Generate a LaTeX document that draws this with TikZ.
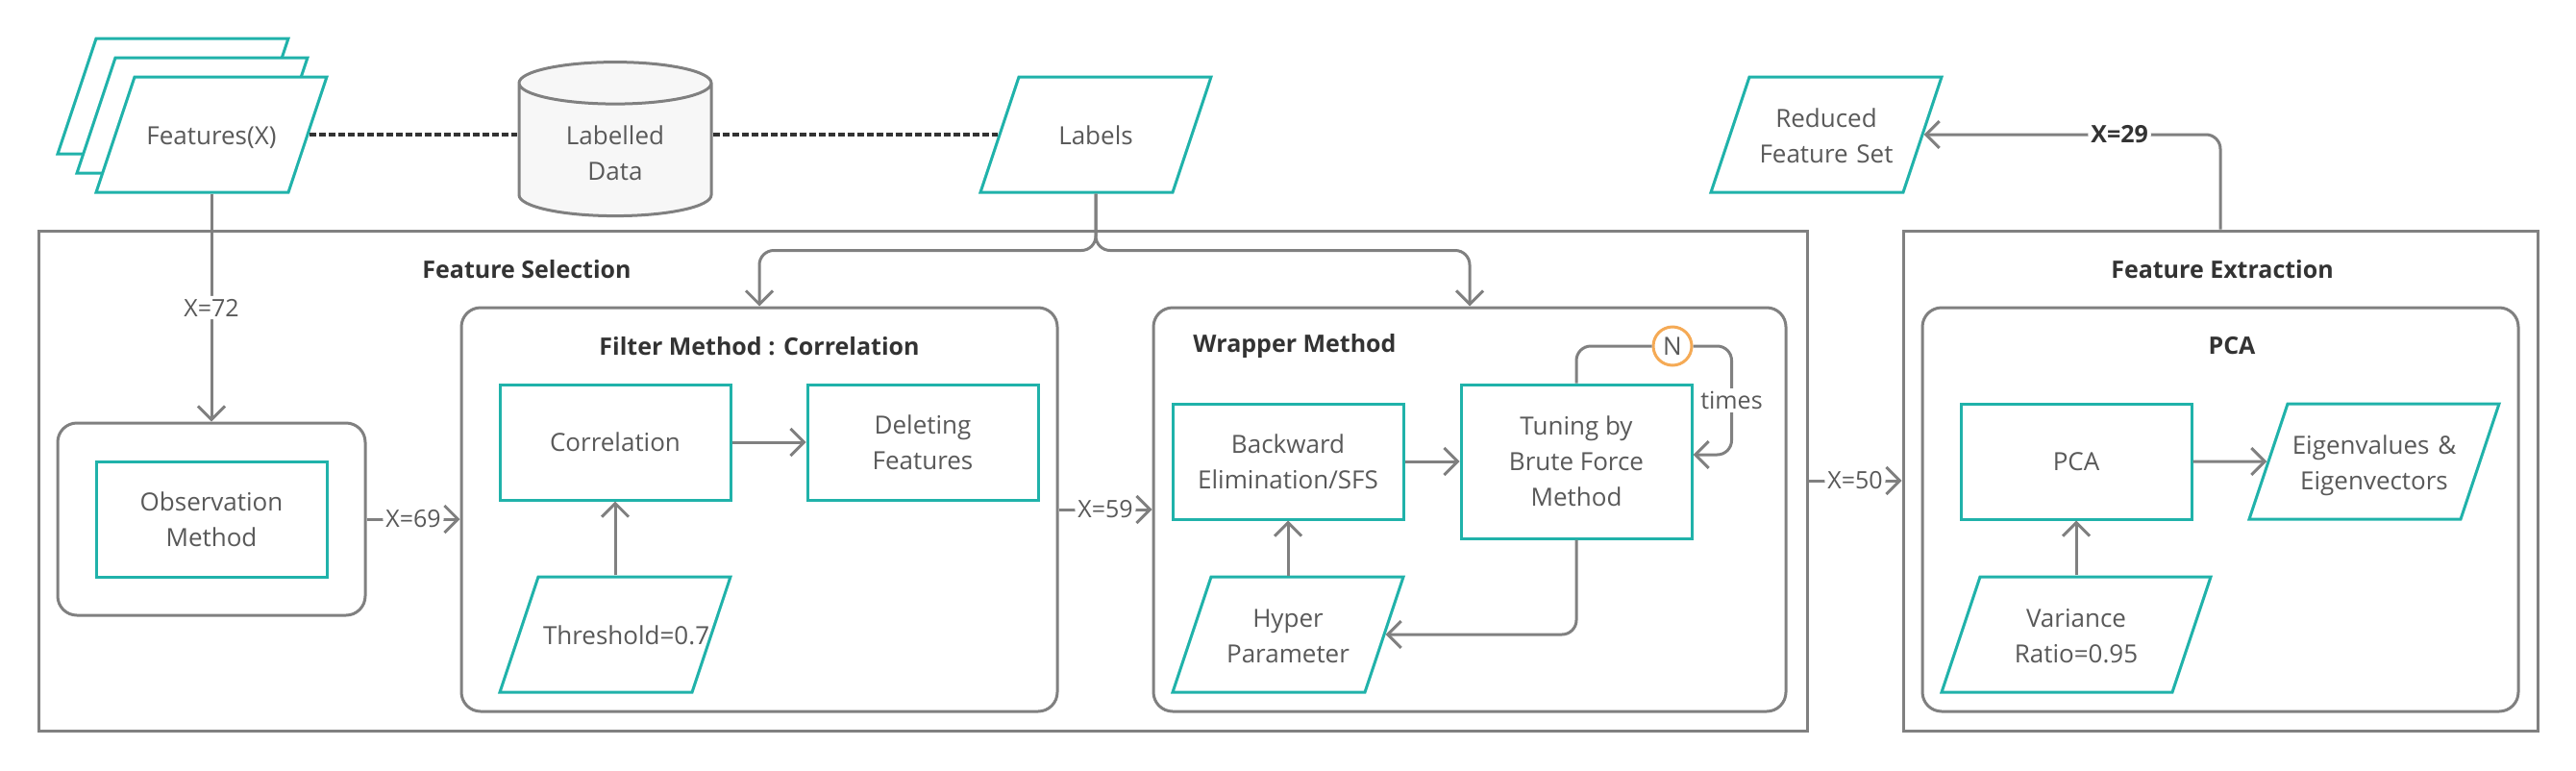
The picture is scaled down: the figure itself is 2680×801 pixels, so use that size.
\documentclass[tikz,border=0pt]{standalone}
\usepackage{fontspec}
\setmainfont{Open Sans}
\usetikzlibrary{shapes.geometric, arrows.meta, calc, positioning}
\definecolor{teal1}{RGB}{32,178,170}
\definecolor{gray1}{RGB}{128,128,128}
\definecolor{txt}{RGB}{89,89,89}
\definecolor{ttl}{RGB}{51,51,51}
\definecolor{dotc}{RGB}{51,51,51}
\definecolor{ringc}{RGB}{245,170,85}
\definecolor{cylfill}{RGB}{247,247,247}
\newcommand{\nodefont}{\fontsize{26}{37}\selectfont}
\newcommand{\headfont}{\fontsize{25}{30}\selectfont\bfseries}
\tikzstyle{proc} = [rectangle, draw=teal1, line width=3pt, fill=white,
minimum width=240pt, minimum height=120pt, text=txt, align=center, font=\nodefont]
\tikzstyle{io} = [trapezium, trapezium left angle=71.57, trapezium right
angle=108.43, draw=teal1, line width=3pt, fill=white, text width=150pt,
inner xsep=5pt, text height=28pt, text depth=7pt, inner ysep=42.5pt,
text=txt, align=center, font=\nodefont]
\tikzstyle{io2} = [io, text depth=44pt, inner ysep=24pt]
\tikzstyle{store} = [cylinder, shape border rotate=90, aspect=0.4, draw=gray1,
line width=3pt, fill=cylfill, minimum width=200pt, minimum height=160pt,
text=txt, align=center, font=\nodefont]
\tikzstyle{panel} = [rectangle, rounded corners=20pt, draw=gray1, line width=3pt]
\tikzstyle{outer} = [rectangle, draw=gray1, line width=3pt]
\tikzstyle{heading} = [text=ttl, font=\headfont]
\tikzstyle{ring} = [circle, draw=ringc, line width=3pt, fill=white, minimum
size=40pt, inner sep=0pt, text=txt, font=\nodefont]
\tikzstyle{arrow} = [line width=3pt, draw=gray1, rounded corners=15pt,
-{Straight Barb[length=14pt, width=28pt]}]
\tikzstyle{line} = [line width=3pt, draw=gray1, rounded corners=15pt]
\tikzstyle{dotline} = [line width=4pt, draw=dotc, dash pattern=on 7pt off 3pt]
\tikzstyle{lbl} = [fill=white, text=txt, font=\fontsize{25}{30}\selectfont,
inner sep=3pt]

\begin{document}
\begin{tikzpicture}[x=1pt, y=-1pt]
    \useasboundingbox (0,0) rectangle (2680,801);
    % \draw[help lines, step=100] (0,0) grid (2680,801);
    \node (FS) [outer, minimum width=1840pt, minimum height=520pt] at (960,500) {};
    \node (FE) [outer, minimum width=660pt, minimum height=520pt] at (2310,500) {};
    \node (OBS) [panel, minimum width=320pt, minimum height=200pt] at (220,540) {};
    \node (FM) [panel, minimum width=620pt, minimum height=420pt] at (790,530) {};
    \node (WM) [panel, minimum width=658pt, minimum height=420pt] at (1529,530) {};
    \node (PC) [panel, minimum width=620pt, minimum height=420pt] at (2310,530) {};
    \node (tFS) [heading] at (548,280) {Feature Selection}; \node (tFE)
    [heading] at (2312,280) {Feature Extraction}; \node (tFM) [heading] at
    (790,360) {Filter Method : Correlation}; \node (tWM) [heading] at
    (1347,360) {Wrapper Method}; \node (tPC) [heading] at (2322,360) {PCA};

    % inputs and outputs on top
    \node (F3) [io] at (180,100) {}; \node (F2) [io] at (200,120) {}; \node (F)
    [io] at (220,140) {Features(X)}; \node (LD) [store] at (640,159)
    {Labelled\\Data}; \node (L) [io] at (1140,140) {Labels}; \node (R) [io2] at
    (1900,140) {Reduced\\Feature Set};

    \node (OM) [proc] at (220,540) {Observation\\Method};
    \node (C) [proc] at (640,460) {Correlation}; \node (D) [proc, right=77pt of
      C] {Deleting\\Features}; \node (T) [io] at (640,660) {Threshold=0.7};
    \node (B) [proc] at (1340,480) {Backward\\Elimination/SFS}; \node (TU)
    [proc, minimum height=160pt, right=57pt of B] {Tuning by\\Brute
      Force\\Method}; \node (H) [io2] at (1340,660) {Hyper\\Parameter};
    \node (N) [ring] at (1740,360) {N};
    \node (P) [proc] at (2160,480) {PCA}; \node (E) [io2, text width=176pt,
      inner xsep=2pt] at (2470,480) {Eigenvalues \&\\Eigenvectors}; \node (V)
    [io2, text width=190pt] at (2160,660) {Variance\\Ratio=0.95};

    \draw [dotline] (F.east) -- (F.east -| LD.west); \draw [dotline] (L.west
    -| LD.east) -- (L.west);
    \draw [arrow] (OBS.north |- F.south) -- node[lbl] {X=72} (OBS.north);
    \draw [arrow] (OBS.east) -- node[lbl] {X=69} (OBS.east -| FM.west);
    \draw [arrow] (FM.east) -- node[lbl] {X=59} (FM.east -| WM.west);
    \draw [arrow] (FS.east) -- node[lbl] {X=50} (FS.east -| FE.west);
    \draw [arrow] (L.center |- L.south) -- ++(0,59) -| (FM.north);
    \draw [arrow] (L.center |- L.south) -- ++(0,59) -| (WM.north);
    \draw [arrow] (C.east) -- (D.west); \draw [arrow] (T.north -| C.south) --
    (C.south); \draw [arrow] (B.east) -- (TU.west); \draw [arrow] (H.north -|
    B.south) -- (B.south); \draw [arrow] (TU.south) |- (H.east);
    \draw [line] (TU.north) |- (N.west);
    \draw [arrow] (N.east) -| node[lbl, pos=0.75] {times}
    ([xshift=40pt, yshift=7pt]TU.east) -- ([yshift=7pt]TU.east);
    \draw [arrow] (P.east) -- (E.west); \draw [arrow] (V.north -| P.south) --
    (P.south);
    \draw [arrow] (FE.north) |- node[lbl, pos=0.67, text=ttl,
      font=\fontsize{25}{30}\selectfont\bfseries] {X=29} (R.east);

  \end{tikzpicture}
\end{document}
